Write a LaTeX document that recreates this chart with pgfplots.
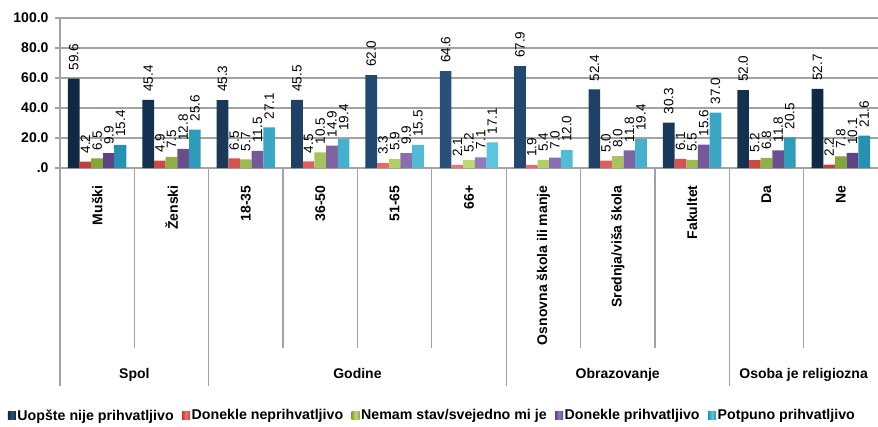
\documentclass[border=0pt]{standalone}
\usepackage{pgfplots}
\usepackage{pgfplotstable}
\pgfplotsset{compat=1.18}
\usepackage{fontspec}
\setmainfont{Liberation Sans}
\definecolor{c1}{HTML}{0F2844}
\definecolor{c1l}{HTML}{28507A}
\definecolor{c2}{HTML}{C23E3A}
\definecolor{c2l}{HTML}{F27272}
\definecolor{c3}{HTML}{82A53A}
\definecolor{c3l}{HTML}{BCDB72}
\definecolor{c4}{HTML}{5E4282}
\definecolor{c4l}{HTML}{9479B8}
\definecolor{c5}{HTML}{2590B0}
\definecolor{c5l}{HTML}{5CC6DF}
\definecolor{gridc}{HTML}{A3A3A3}

\pgfplotstableread{
x s1 s2 s3 s4 s5
0 59.6 4.2 6.5 9.9 15.4
1 45.4 4.9 7.5 12.8 25.6
2 45.3 6.5 5.7 11.5 27.1
3 45.5 4.5 10.5 14.9 19.4
4 62.0 3.3 5.9 9.9 15.5
5 64.6 2.1 5.2 7.1 17.1
6 67.9 1.9 5.4 7.0 12.0
7 52.4 5.0 8.0 11.8 19.4
8 30.3 6.1 5.5 15.6 37.0
9 52.0 5.2 6.8 11.8 20.5
10 52.7 2.2 7.8 10.1 21.6
}\data

\begin{document}
\begin{tikzpicture}
\begin{axis}[
 scale only axis, width=818pt, height=150pt,
 xmin=-0.5, xmax=10.5, ymin=0, ymax=100,
 ybar=0pt, bar width=0.157,
 ytick={0,20,...,100}, yticklabels={.0,20.0,40.0,60.0,80.0,100.0},
 xtick={0,...,10},
 xticklabels={Muški,Ženski,18-35,36-50,51-65,66+,Osnovna škola ili manje,Srednja/viša škola,Fakultet,Da,Ne},
 axis x line*=bottom, axis y line*=left,
 axis line style={gridc, line width=1.2pt},
 ymajorgrids, grid style={gridc, line width=1.2pt},
 xtick style={draw=none},
 ytick style={gridc, line width=1.2pt}, tick align=outside, major tick length=5pt,
 yticklabel style={font=\fontsize{14}{16}\selectfont\bfseries, xshift=-3pt},
 xticklabel style={font=\fontsize{14}{16}\selectfont\bfseries, yshift=-9pt, rotate=90, anchor=east},
 clip=false,
 nodes near coords,
 every node near coord/.append style={font=\fontsize{13.5}{15}\selectfont, yshift=8pt, rotate=90, anchor=west, inner sep=0pt},
 legend style={at={(0.455,-1.65)}, anchor=center, draw=none, legend columns=5,
   font=\fontsize{14.2}{16}\selectfont\bfseries, inner sep=0pt, nodes={inner sep=1.5pt},
   /tikz/every even column/.append style={column sep=7pt}},
 legend image code/.code={\path[#1,draw=none] (0pt,-4pt) rectangle (8pt,4pt);},
 /pgf/number format/fixed, /pgf/number format/fixed zerofill, /pgf/number format/precision=1,
 /pgf/number format/assume math mode=true,
]
\addplot[draw=none, left color=c1, right color=c1, middle color=c1l] table[x=x,y=s1] {\data};
\addplot[draw=none, left color=c2, right color=c2, middle color=c2l] table[x=x,y=s2] {\data};
\addplot[draw=none, left color=c3, right color=c3, middle color=c3l] table[x=x,y=s3] {\data};
\addplot[draw=none, left color=c4, right color=c4, middle color=c4l] table[x=x,y=s4] {\data};
\addplot[draw=none, left color=c5, right color=c5, middle color=c5l] table[x=x,y=s5] {\data};
\legend{Uopšte nije prihvatljivo,Donekle neprihvatljivo,Nemam stav/svejedno mi je,Donekle prihvatljivo,Potpuno prihvatljivo}

\draw[gridc, line width=1.2pt] (axis cs:0.5,0) -- (axis cs:0.5,-120);
\draw[gridc, line width=1.2pt] (axis cs:2.5,0) -- (axis cs:2.5,-120);
\draw[gridc, line width=1.2pt] (axis cs:3.5,0) -- (axis cs:3.5,-120);
\draw[gridc, line width=1.2pt] (axis cs:4.5,0) -- (axis cs:4.5,-120);
\draw[gridc, line width=1.2pt] (axis cs:6.5,0) -- (axis cs:6.5,-120);
\draw[gridc, line width=1.2pt] (axis cs:7.5,0) -- (axis cs:7.5,-120);
\draw[gridc, line width=1.2pt] (axis cs:9.5,0) -- (axis cs:9.5,-120);
\draw[gridc, line width=1.2pt] (axis cs:-0.5,0) -- (axis cs:-0.5,-145);
\draw[gridc, line width=1.2pt] (axis cs:1.5,0) -- (axis cs:1.5,-145);
\draw[gridc, line width=1.2pt] (axis cs:5.5,0) -- (axis cs:5.5,-145);
\draw[gridc, line width=1.2pt] (axis cs:8.5,0) -- (axis cs:8.5,-145);

\node[font=\fontsize{14}{16}\selectfont\bfseries, anchor=base] at (axis cs:0.5,-140) {Spol};
\node[font=\fontsize{14}{16}\selectfont\bfseries, anchor=base] at (axis cs:3.5,-140) {Godine};
\node[font=\fontsize{14}{16}\selectfont\bfseries, anchor=base] at (axis cs:7,-140) {Obrazovanje};
\node[font=\fontsize{14}{16}\selectfont\bfseries, anchor=base] at (axis cs:9.5,-140) {Osoba je religiozna};

\coordinate (tl) at (rel axis cs:0,1);
\end{axis}
\pgfresetboundingbox
\path (tl) ++(-60pt,18pt) rectangle ++(878pt,-426pt);
\end{tikzpicture}
\end{document}
